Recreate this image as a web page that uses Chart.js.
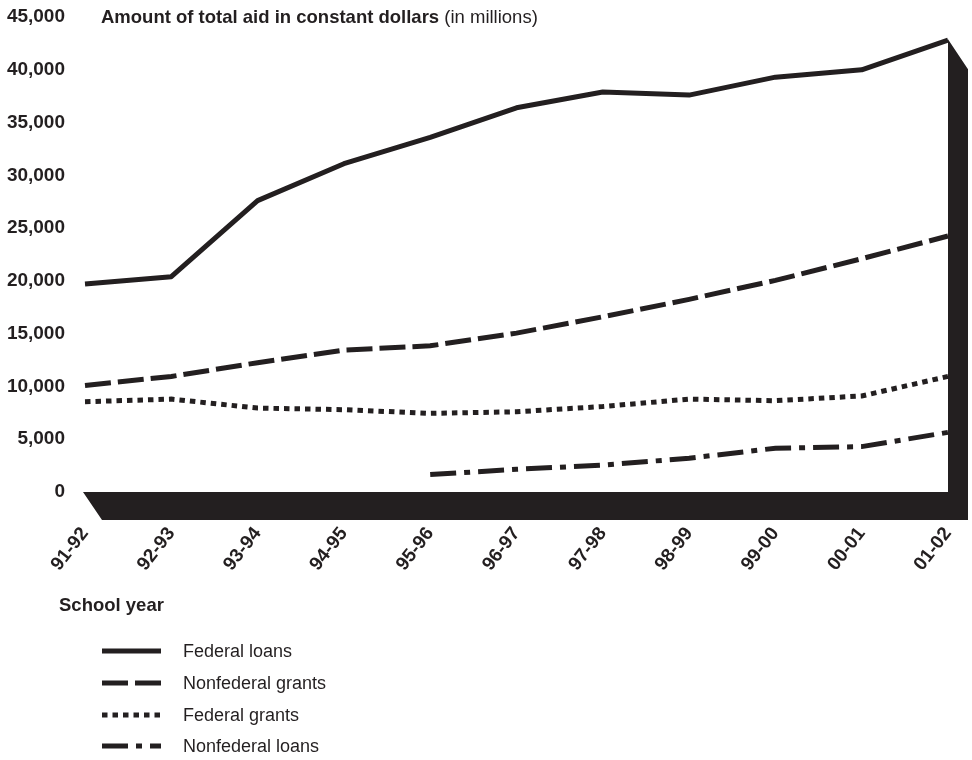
<!DOCTYPE html>
<html>
<head>
<meta charset="utf-8">
<script src="https://cdn.jsdelivr.net/npm/chart.js@4"></script>
<style>
  body { margin: 0; background: #fff; }
</style>
</head>
<body>
<canvas id="aidChart" width="972" height="760"></canvas>
<script>
const years = ['91-92', '92-93', '93-94', '94-95', '95-96', '96-97', '97-98', '98-99', '99-00', '00-01', '01-02'];
const federalLoans = [19700, 20400, 27600, 31100, 33600, 36400, 37900, 37600, 39300, 40000, 42800];
const nonfederalGrants = [10100, 10950, 12250, 13450, 13850, 15050, 16600, 18250, 20050, 22100, 24250];
const federalGrants = [8550, 8800, 7950, 7800, 7450, 7600, 8100, 8800, 8650, 9100, 10950];
const nonfederalLoans = [null, null, null, null, 1650, 2150, 2550, 3200, 4150, 4300, 5650];
const yTicks = [0, 5000, 10000, 15000, 20000, 25000, 30000, 35000, 40000, 45000];

const ink = '#231f20';
const fontFamily = '"Liberation Sans", Arial, Helvetica, sans-serif';

const seriesStyles = [
  { label: 'Federal loans', data: federalLoans, dash: [] },
  { label: 'Nonfederal grants', data: nonfederalGrants, dash: [26, 7] },
  { label: 'Federal grants', data: federalGrants, dash: [5.5, 5] },
  { label: 'Nonfederal loans', data: nonfederalLoans, dash: [26, 8, 6, 8] }
];

// black floor + right wall behind the lines, plus title, axis title and legend
const boxPlugin = {
  id: 'box',
  beforeDatasetsDraw(chart) {
    const { ctx, chartArea, scales } = chart;
    const y0 = scales.y.getPixelForValue(0);
    const wallTop = scales.y.getPixelForValue(federalLoans[federalLoans.length - 1]) - 1;
    const dx = 20, dy = 28;
    ctx.save();
    ctx.fillStyle = ink;
    ctx.beginPath();
    ctx.moveTo(chartArea.left - 2, y0);
    ctx.lineTo(chartArea.right, y0);
    ctx.lineTo(chartArea.right, wallTop);
    ctx.lineTo(chartArea.right + dx, wallTop + 30);
    ctx.lineTo(chartArea.right + dx, y0 + dy);
    ctx.lineTo(chartArea.left + 17, y0 + dy);
    ctx.closePath();
    ctx.fill();
    ctx.restore();
  },
  afterDraw(chart) {
    const { ctx } = chart;
    ctx.save();
    ctx.fillStyle = ink;
    ctx.textBaseline = 'middle';
    ctx.textAlign = 'left';
    // title
    ctx.font = 'bold 18.5px ' + fontFamily;
    const t1 = 'Amount of total aid in constant dollars';
    ctx.fillText(t1, 101, 18);
    const w1 = ctx.measureText(t1).width;
    ctx.font = '18.5px ' + fontFamily;
    ctx.fillText(' (in millions)', 101 + w1, 18);
    // x axis title
    ctx.font = 'bold 18.5px ' + fontFamily;
    ctx.fillText('School year', 59, 606);
    // legend
    const rows = [651, 683, 715, 746];
    seriesStyles.forEach((s, i) => {
      ctx.strokeStyle = ink;
      ctx.lineWidth = 5;
      ctx.lineCap = 'butt';
      ctx.setLineDash(s.dash);
      ctx.beginPath();
      ctx.moveTo(102, rows[i]);
      ctx.lineTo(161, rows[i]);
      ctx.stroke();
      ctx.setLineDash([]);
      ctx.font = '18px ' + fontFamily;
      ctx.fillText(s.label, 183, rows[i] + 1);
    });
    ctx.restore();
  }
};

function noPad(scale) {
  scale.paddingTop = 0;
  scale.paddingBottom = 0;
  scale.paddingLeft = 0;
  scale.paddingRight = 0;
}

new Chart(document.getElementById('aidChart').getContext('2d'), {
  type: 'line',
  data: {
    labels: years,
    datasets: seriesStyles.map(s => ({
      label: s.label,
      data: s.data,
      borderColor: ink,
      backgroundColor: ink,
      borderWidth: 5,
      borderDash: s.dash,
      borderCapStyle: 'butt',
      borderJoinStyle: s.dash.length ? 'miter' : 'round',
      pointRadius: 0,
      tension: 0,
      fill: false
    }))
  },
  options: {
    responsive: false,
    animation: false,
    layout: { padding: { top: 17, right: 24, left: 0, bottom: 0 } },
    scales: {
      x: {
        type: 'category',
        offset: false,
        grid: { display: false, drawTicks: false },
        border: { display: false },
        ticks: {
          autoSkip: false,
          maxRotation: 52,
          minRotation: 52,
          padding: 31,
          color: ink,
          font: { family: fontFamily, size: 19, weight: 'bold' }
        },
        afterFit(scale) { scale.height = 268; noPad(scale); }
      },
      y: {
        min: 0,
        max: 45000,
        grid: { display: false, drawTicks: false },
        border: { display: false },
        afterBuildTicks(scale) { scale.ticks = yTicks.map(v => ({ value: v })); },
        ticks: {
          padding: 20,
          color: ink,
          font: { family: fontFamily, size: 19, weight: 'bold' },
          callback: v => v.toLocaleString('en-US')
        },
        afterFit(scale) { scale.width = 85; noPad(scale); }
      }
    },
    plugins: {
      legend: { display: false },
      title: { display: false },
      tooltip: { enabled: false }
    }
  },
  plugins: [boxPlugin]
});
</script>
</body>
</html>
